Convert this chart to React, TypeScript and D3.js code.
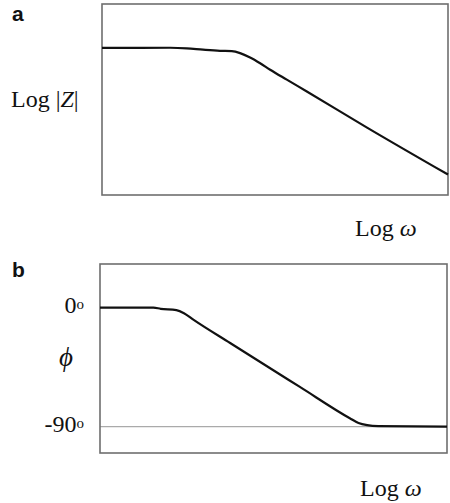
import * as d3 from 'd3';
import React, { useEffect, useRef } from 'react';

// panel a: Log |Z| against Log w (arbitrary units, 0..10 on both axes)
const magLogW = [0, 1.97, 2.45, 2.92, 3.41, 3.75, 3.99, 4.28, 4.57, 4.86, 5.34, 5.92, 7.66, 10];
const magLogZ = [7.7, 7.71, 7.68, 7.61, 7.55, 7.53, 7.43, 7.2, 6.9, 6.56, 6.04, 5.42, 3.53, 1.07];

// panel b: phase in degrees against Log w
const phaseLogW = [0, 1.54, 1.75, 2.2, 2.42, 2.7, 3.75, 5.76, 7.2, 7.45, 7.7, 8.02, 10];
const phaseDeg = [0, 0, -0.9, -1.9, -4.2, -9.3, -26.8, -60, -83.7, -87.3, -88.9, -89.6, -90];

// tick labels on the phase axis
const phaseTicks = [0, -90];

const W = 450, H = 503;
const serif = '"Liberation Serif", "Times New Roman", serif';
const sans = '"Liberation Sans", Arial, sans-serif';

export default function App() {
    const ref = useRef<SVGSVGElement>(null);

    useEffect(() => {
        const svg = d3.select(ref.current);
        svg.selectAll('*').remove();

        // ---- panel a ----
        const ax = d3.scaleLinear().domain([0, 10]).range([102, 448]);
        const ay = d3.scaleLinear().domain([0, 10]).range([195, 4]);

        svg.append('rect')
            .attr('x', ax(0)).attr('y', ay(10))
            .attr('width', ax(10) - ax(0)).attr('height', ay(0) - ay(10))
            .attr('fill', 'none').attr('stroke', '#6e6e6e').attr('stroke-width', 1.6);

        const magLine = d3.line<number>()
            .x((d, i) => ax(magLogW[i]))
            .y((d) => ay(d))
            .curve(d3.curveMonotoneX);

        svg.append('path')
            .attr('d', magLine(magLogZ))
            .attr('fill', 'none').attr('stroke', '#111').attr('stroke-width', 2.2);

        svg.append('text').text('a')
            .attr('x', 12).attr('y', 21)
            .style('font-family', sans).style('font-weight', 'bold').style('font-size', '21px')
            .attr('fill', '#111');

        const magLabel = svg.append('text')
            .attr('x', 11).attr('y', 107)
            .style('font-family', serif).style('font-size', '24px').attr('fill', '#111');
        magLabel.append('tspan').text('Log |');
        magLabel.append('tspan').text('Z').style('font-style', 'italic');
        magLabel.append('tspan').text('|');

        const wLabelA = svg.append('text')
            .attr('x', 355).attr('y', 236)
            .style('font-family', serif).style('font-size', '24px').attr('fill', '#111');
        wLabelA.append('tspan').text('Log ');
        wLabelA.append('tspan').text('ω').style('font-style', 'italic');

        // ---- panel b ----
        const bx = d3.scaleLinear().domain([0, 10]).range([100, 447]);
        const by = d3.scaleLinear().domain([33, -110]).range([264, 453]);

        svg.append('line')
            .attr('x1', bx(0)).attr('x2', bx(10))
            .attr('y1', by(-90)).attr('y2', by(-90))
            .attr('stroke', '#aaa').attr('stroke-width', 1.2);

        svg.append('rect')
            .attr('x', bx(0)).attr('y', by(33))
            .attr('width', bx(10) - bx(0)).attr('height', by(-110) - by(33))
            .attr('fill', 'none').attr('stroke', '#6e6e6e').attr('stroke-width', 1.6);

        const phaseLine = d3.line<number>()
            .x((d, i) => bx(phaseLogW[i]))
            .y((d) => by(d))
            .curve(d3.curveMonotoneX);

        svg.append('path')
            .attr('d', phaseLine(phaseDeg))
            .attr('fill', 'none').attr('stroke', '#111').attr('stroke-width', 2.2);

        svg.append('text').text('b')
            .attr('x', 12).attr('y', 277)
            .style('font-family', sans).style('font-weight', 'bold').style('font-size', '21px')
            .attr('fill', '#111');

        phaseTicks.forEach((t) => {
            const lbl = svg.append('text')
                .attr('x', 84).attr('y', by(t) + 5.5)
                .attr('text-anchor', 'end')
                .style('font-family', serif).style('font-size', '24px').attr('fill', '#111');
            lbl.append('tspan').text(String(t));
            lbl.append('tspan').text('o').attr('dy', -4).style('font-size', '15px');
        });

        svg.append('text').text('ϕ')
            .attr('x', 66).attr('y', 366)
            .attr('text-anchor', 'middle')
            .style('font-family', serif).style('font-style', 'italic').style('font-size', '27px')
            .attr('fill', '#111');

        const wLabelB = svg.append('text')
            .attr('x', 360).attr('y', 496)
            .style('font-family', serif).style('font-size', '24px').attr('fill', '#111');
        wLabelB.append('tspan').text('Log ');
        wLabelB.append('tspan').text('ω').style('font-style', 'italic');
    }, []);

    return (
        <div style={{ position: 'absolute', left: 0, top: 0 }}>
            <svg ref={ref} width={W} height={H} style={{ display: 'block', background: '#fff' }} />
        </div>
    );
}
